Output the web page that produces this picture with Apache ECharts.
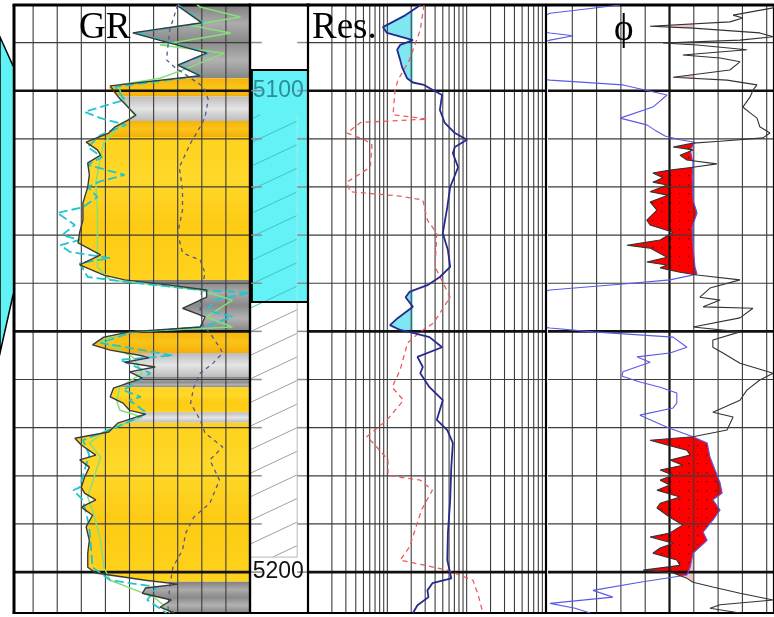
<!DOCTYPE html>
<html>
<head>
<meta charset="utf-8">
<script src="https://cdn.jsdelivr.net/npm/echarts@6/dist/echarts.min.js"></script>
<style>
html,body{margin:0;padding:0;background:#ffffff;}
#chart{width:774px;height:617px;}
</style>
</head>
<body>
<div id="chart"></div>
<script>
// ================= DATA =================
const depthTop = 5082.2;
const depthBottom = 5208.5;
const depthLines = [5090,5100,5110,5120,5130,5140,5150,5160,5170,5180,5190,5200];
const depthHeavyLines = [5100,5150,5200];
const depthLabels = [5100,5200];
const trackTitles = ['GR','Res.','\u03D5'];

const grTicks = [15,30,45,60,75,90,105,120,135];
const resTicks = [2,3,4,5,6,7,8,9,10,20,30,40,50,60,70,80,90,100,200,300,400,500,600,700,800,900];
const phiTicks = [6,12,18,24,36,42,48,54];
const phiHeavyTicks = [30];
const resCutoff = 21;
const phiCutoff = 24;

// intervals in the depth track
const coreTop = 5095.7, coreBottom = 5143.9;
const hatchTop = 5105.0, hatchBottom = 5196.9;

// lithology bands [top, bottom, kind]
const lithoBands = [
  [5082.2,5097.4,'shale'],[5097.4,5101.2,'orange'],[5101.2,5106.3,'silt'],
  [5106.3,5109.6,'orange'],[5109.6,5139.3,'sand'],[5139.3,5149.9,'shale'],
  [5149.9,5154.5,'orange'],[5154.5,5159.5,'silt'],[5159.5,5161.6,'shale'],
  [5161.6,5166.8,'sand'],[5166.8,5169.0,'silt'],[5169.0,5202.0,'sand'],
  [5202.0,5208.5,'shale']
];

// curves: [depth, value]
const grMain = [[5082.2,104],[5082.6,106],[5085.9,120],[5088.0,77],[5092.2,123],[5094.7,105],[5096.9,119],[5099.0,63],[5099.4,62],[5101.3,68],[5103.4,74],[5105.1,79],[5106.1,74],[5107.5,66],[5108.8,62],[5110.7,48],[5112.3,55],[5113.4,57],[5115.0,49],[5117.5,50],[5120.0,49],[5123.3,46],[5126.9,46],[5129.4,44],[5131.6,43],[5134.1,57],[5136.2,44],[5138.3,59],[5139.3,72],[5140.4,100],[5141.4,123],[5142.9,123],[5145.2,108],[5147.0,122],[5149.1,119],[5150.1,75],[5151.2,59],[5152.8,52],[5153.9,63],[5155.0,82],[5155.5,87],[5156.4,72],[5157.4,91],[5158.4,75],[5159.7,83],[5161.8,65],[5163.6,63],[5164.9,71],[5166.4,75],[5167.2,85],[5169.0,68],[5170.9,62],[5172.2,41],[5173.6,45],[5175.7,54],[5176.7,44],[5178.2,50],[5180.3,47],[5182.4,45],[5183.6,47],[5185.0,54],[5186.5,45],[5188.2,52],[5190.6,48],[5193.4,50],[5196.1,49],[5199.0,49],[5200.2,54],[5201.7,85],[5202.5,105],[5203.3,85],[5204.4,83],[5205.8,101],[5207.3,94],[5208.5,103]];
const grCyan = [[5082.2,105],[5082.6,107],[5085.9,121],[5088.0,79],[5092.2,124],[5094.7,106],[5096.9,120],[5099.2,66],[5101.9,72],[5104.4,47],[5105.7,57],[5107.1,73],[5109.2,57],[5111.7,49],[5113.8,58],[5115.4,49],[5117.5,72],[5118.8,57],[5120.0,49],[5122.1,55],[5124.2,46],[5125.4,30],[5127.9,41],[5130.0,33],[5131.0,44],[5132.1,32],[5133.5,38],[5134.8,63],[5135.8,44],[5138.7,49],[5139.8,75],[5141.4,119],[5142.0,150],[5143.5,128],[5145.6,123],[5147.0,139],[5149.1,121],[5150.1,77],[5152.4,57],[5155.0,102],[5155.9,69],[5158.7,88],[5162.2,71],[5163.6,82],[5164.3,75],[5167.0,86],[5169.9,67],[5172.6,46],[5175.7,50],[5178.8,47],[5182.4,44],[5183.0,40],[5185.0,46],[5190.6,50],[5199.0,52],[5201.7,63],[5203.1,92],[5205.8,86],[5208.5,98]];
const grGreen = [[5082.2,117],[5082.6,119],[5084.7,144],[5086.4,113],[5088.0,138],[5090.5,94],[5092.2,134],[5095.1,113],[5097.4,94],[5098.8,68],[5101.9,71],[5105.1,78],[5107.5,68],[5110.9,59],[5113.8,57],[5119.2,54],[5124.2,55],[5129.6,55],[5136.6,55],[5139.3,63],[5141.4,119],[5143.5,139],[5147.0,123],[5149.1,139],[5150.1,77],[5151.8,57],[5155.3,77],[5158.7,83],[5161.6,69],[5164.3,67],[5166.4,69],[5167.8,83],[5170.5,61],[5173.2,50],[5176.1,57],[5184.4,49],[5187.1,52],[5193.4,57],[5199.0,59],[5201.7,63],[5205.2,90],[5207.3,98],[5208.5,100]];
const grDashed = [[5082.2,105],[5082.6,105],[5087.4,100],[5093.6,98],[5095.1,103],[5099.2,121],[5101.9,124],[5105.5,122],[5107.5,119],[5110.9,113],[5115.9,106],[5120.6,108],[5124.8,108],[5129.6,105],[5133.7,108],[5135.2,119],[5137.9,122],[5140.8,120],[5145.6,119],[5149.1,121],[5150.3,125],[5153.3,131],[5154.5,133],[5156.6,127],[5158.7,119],[5161.6,115],[5164.9,113],[5168.4,119],[5171.1,122],[5174.0,133],[5176.7,125],[5180.9,131],[5185.7,125],[5188.6,115],[5191.9,110],[5195.4,108],[5199.0,102],[5203.1,100],[5207.3,99],[5208.5,99]];

const resDeep = [[5082.2,26],[5082.6,24],[5084.3,17],[5086.8,8.8],[5088.0,9.9],[5089.5,21],[5090.5,14.5],[5091.5,13.3],[5093.6,14.5],[5095.1,15.3],[5097.4,17.7],[5098.3,21],[5098.8,29],[5099.9,38],[5100.9,49],[5104.0,46],[5106.7,53],[5108.8,71],[5110.2,101],[5111.7,71],[5113.0,67],[5115.9,78],[5120.0,62],[5124.2,57],[5129.6,50],[5133.1,58],[5136.6,62],[5138.7,46],[5140.4,32],[5141.8,19],[5142.9,17],[5144.9,21],[5147.2,13.6],[5148.7,10.8],[5149.7,14.5],[5150.3,21],[5151.2,34],[5153.3,49],[5155.3,24],[5157.4,28],[5158.7,26],[5161.6,34],[5164.3,50],[5168.4,42],[5170.5,57],[5173.2,67],[5178.2,64],[5185.0,62],[5191.9,58],[5197.5,57],[5201.3,64],[5202.3,37],[5203.8,32],[5205.2,33],[5206.9,24],[5208.5,21]];
const resShallow = [[5082.2,29],[5082.6,28],[5087.4,26],[5093.6,19],[5097.8,13.6],[5099.9,12.5],[5105.0,11.8],[5105.9,32],[5106.6,4.6],[5108.8,3.1],[5110.2,5.2],[5111.3,6.4],[5115.9,6.1],[5119.0,3.1],[5121.0,3.4],[5121.9,14.5],[5122.7,28],[5126.9,32],[5129.6,42],[5136.6,40],[5142.9,62],[5148.3,38],[5150.1,26],[5152.4,18],[5158.0,14.5],[5161.6,11.5],[5164.3,16],[5168.4,9.9],[5171.9,5.5],[5173.6,7],[5176.7,10.2],[5179.9,10.2],[5180.9,26],[5183.0,37],[5187.1,27],[5194.8,19],[5197.5,14.5],[5199.6,57],[5201.7,120],[5204.8,140],[5208.5,160]];

const phiNeutron = [[5082.2,42.2],[5082.6,46.4],[5083.9,59.5],[5085.3,63],[5087.6,63],[5088.0,59.5],[5088.6,53.8],[5089.5,59.5],[5090.3,63],[5097.4,63],[5097.8,59.5],[5098.8,41.5],[5100.9,30.6],[5103.4,34.1],[5105.7,42.2],[5107.1,35.6],[5108.2,33.6],[5109.4,31.1],[5110.2,27.4],[5110.7,23.7],[5112.3,24.9],[5115.0,24.2],[5117.9,24.4],[5122.7,24.2],[5125.4,23.2],[5128.3,24.4],[5132.5,24.2],[5136.6,23.7],[5138.1,23.2],[5139.3,29.9],[5140.2,42.2],[5141.4,59.5],[5142.0,63],[5148.9,63],[5149.3,59.5],[5150.1,48.9],[5151.2,29.1],[5153.3,25.7],[5154.5,29.9],[5155.3,38.0],[5156.4,34.8],[5158.4,41.5],[5159.3,41.7],[5160.5,37.3],[5161.6,32.3],[5162.8,28.2],[5164.9,28.2],[5165.9,29.1],[5167.4,37.3],[5169.9,30.6],[5171.9,24.2],[5173.2,20.7],[5176.1,20.0],[5181.5,17.5],[5183.6,17.0],[5185.0,19.3],[5187.1,17.5],[5189.2,19.3],[5191.7,21.7],[5193.4,20.7],[5196.1,24.2],[5199.0,24.9],[5200.6,25.7],[5202.1,37.3],[5203.8,48.9],[5205.2,44.0],[5206.5,59.5],[5207.5,53.3],[5208.5,49.6]];
const phiDensity = [[5082.2,3.5],[5082.8,4.4],[5084.3,14.3],[5084.9,11.9],[5085.7,15.1],[5086.6,34.8],[5087.0,24.2],[5088.0,7.7],[5088.8,4.4],[5089.5,12.6],[5090.1,31.6],[5090.5,23.2],[5091.5,10.9],[5092.6,26.7],[5093.2,17.5],[5094.0,12.6],[5095.7,15.1],[5097.2,29.1],[5097.8,15.8],[5098.8,8.4],[5099.9,9.4],[5101.3,10.1],[5103.4,11.9],[5104.6,10.1],[5105.7,8.4],[5107.5,7.7],[5108.8,5.2],[5109.8,6.9],[5110.5,17.5],[5110.9,24.2],[5111.7,29.1],[5112.3,24.2],[5113.4,27.4],[5114.4,25.7],[5115.2,18.3],[5115.9,24.2],[5116.5,29.9],[5117.1,34.1],[5118.1,31.6],[5119.0,34.1],[5119.6,30.6],[5121.0,34.8],[5121.7,30.4],[5123.1,34.8],[5124.8,33.1],[5126.9,35.6],[5127.9,34.8],[5129.4,29.1],[5131.0,32.3],[5132.1,40.5],[5132.7,34.8],[5134.6,30.6],[5135.6,35.6],[5136.2,30.6],[5136.8,32.3],[5137.7,27.4],[5138.3,23.2],[5139.3,12.6],[5141.0,20.0],[5142.9,22.5],[5143.5,17.5],[5144.9,21.7],[5145.2,9.4],[5147.2,12.6],[5149.1,24.2],[5150.1,12.6],[5151.8,19.3],[5153.3,19.3],[5154.5,16.8],[5156.6,12.6],[5158.7,4.4],[5160.1,7.7],[5162.2,10.9],[5164.3,12.6],[5166.8,19.3],[5167.8,14.3],[5170.5,15.8],[5171.9,24.2],[5172.6,34.8],[5173.6,30.6],[5174.7,25.7],[5175.7,24.9],[5176.7,29.9],[5177.8,26.7],[5178.8,32.3],[5179.9,29.1],[5180.9,32.3],[5181.9,29.9],[5183.0,33.1],[5184.4,27.4],[5185.7,32.3],[5186.7,33.1],[5188.6,29.9],[5190.2,26.7],[5191.9,29.9],[5192.7,34.8],[5194.0,29.1],[5195.0,32.3],[5196.1,34.1],[5197.5,28.2],[5198.6,27.4],[5199.6,36.5],[5200.2,29.1],[5201.3,25.7],[5202.1,24.2],[5203.1,19.3],[5204.4,12.6],[5205.8,4.4],[5206.8,17.5],[5207.5,20.0],[5208.5,12.6]];

// ================= HELPERS =================
const GR = 0, DEP = 1, RES = 2, PHI = 3;
// phi track: 60 p.u. at the left edge, 6 p.u. per 24.3 px; the visible part ends at the page edge
const xRange = {0:[3.1,150], 1:[0,1], 2:[1,1000], 3:[4.2,60]};
const anchor = {0:[50,5150], 1:[0.5,5150], 2:[10,5150], 3:[30,5150]};
const toXY = pts => pts.map(p => [p[1], p[0]]);

function interpX(pts, y) {
  if (y <= pts[0][1]) return pts[0][0];
  const n = pts.length;
  if (y >= pts[n-1][1]) return pts[n-1][0];
  for (let i = 1; i < n; i++) {
    if (pts[i][1] >= y) {
      const a = pts[i-1], b = pts[i];
      const t = b[1] === a[1] ? 0 : (y - a[1]) / (b[1] - a[1]);
      return a[0] + t * (b[0] - a[0]);
    }
  }
  return pts[n-1][0];
}
// polygons where left.x < right.x (pixel space, y ascending)
function fillBetween(L, R) {
  const y0 = Math.max(L[0][1], R[0][1]), y1 = Math.min(L[L.length-1][1], R[R.length-1][1]);
  const ys = Array.from(new Set(L.map(p=>p[1]).concat(R.map(p=>p[1]))))
    .filter(y => y >= y0 && y <= y1).sort((a,b)=>a-b);
  const polys = []; let cur = null; let prev = null;
  ys.forEach(y => {
    const l = interpX(L, y), r = interpX(R, y), d = r - l;
    if (prev) {
      const dp = prev.d;
      if (((dp > 0) && (d <= 0)) || ((dp <= 0) && (d > 0))) {
        const t = dp / (dp - d);
        const yc = prev.y + t * (y - prev.y), xc = prev.l + t * (l - prev.l);
        if (dp > 0 && cur) { cur.left.push([xc,yc]); cur.right.push([xc,yc]); polys.push(cur); cur = null; }
        else if (dp <= 0) { cur = {left:[[xc,yc]], right:[[xc,yc]]}; }
      }
    }
    if (d > 0) { if (!cur) cur = {left:[], right:[]}; cur.left.push([l,y]); cur.right.push([r,y]); }
    else if (cur) { polys.push(cur); cur = null; }
    prev = {y, l, r, d};
  });
  if (cur) polys.push(cur);
  return polys.map(p => p.left.concat(p.right.slice().reverse()));
}
function px(api, pts) { return pts.map(p => api.coord([p[1], p[0]])); }

// ================= STYLES =================
const G = echarts.graphic.LinearGradient;
function bandFill(kind) {
  if (kind === 'shale') return new G(0,0,0,1,[{offset:0,color:'#808080'},{offset:0.25,color:'#ababab'},{offset:0.5,color:'#8a8a8a'},{offset:0.75,color:'#b2b2b2'},{offset:1,color:'#878787'}]);
  if (kind === 'silt') return new G(0,0,0,1,[{offset:0,color:'#bdbdbd'},{offset:0.5,color:'#e4e4e4'},{offset:1,color:'#bcbcbc'}]);
  if (kind === 'orange') return new G(0,0,0,1,[{offset:0,color:'#F6B30C'},{offset:0.5,color:'#FBC417'},{offset:1,color:'#F5AE0A'}]);
  return new G(0,0,0,1,[{offset:0,color:'#FFD21C'},{offset:0.3,color:'#FFD82A'},{offset:0.6,color:'#FDCB14'},{offset:1,color:'#FFD21C'}]);
}
const pat = document.createElement('canvas'); pat.width = 9; pat.height = 9;
(function(){ const g = pat.getContext('2d'); g.fillStyle = '#ff0000'; g.fillRect(0,0,9,9); g.fillStyle = '#700000'; g.fillRect(4,4,1.3,1.3); })();
const redPattern = {image: pat, repeat: 'repeat'};

// ================= SERIES =================
const series = [];

function gridSeries(gi, vThin, vHeavy, leftW, rightW, withH) {
  return {
    type:'custom', xAxisIndex:gi, yAxisIndex:gi, z:5, silent:true, clip:false, data:[anchor[gi]],
    renderItem: (params, api) => {
      const ch = [];
      const L = (a,b,w,c) => ch.push({type:'line', shape:{x1:a[0],y1:a[1],x2:b[0],y2:b[1]}, style:{stroke:c, lineWidth:w}});
      const [x0, x1] = xRange[gi];
      vThin.forEach(v => L(api.coord([v,depthTop]), api.coord([v,depthBottom]), 1.1, '#3c3c3c'));
      vHeavy.forEach(v => L(api.coord([v,depthTop]), api.coord([v,depthBottom]), 2.2, '#111'));
      if (withH) {
        depthLines.forEach(d => {
          const heavy = depthHeavyLines.indexOf(d) >= 0;
          L(api.coord([x0,d]), api.coord([x1,d]), heavy ? 2.6 : 1.2, heavy ? '#111' : '#3c3c3c');
        });
      }
      const tl = api.coord([x0,depthTop]), tr = api.coord([x1,depthTop]);
      const bl = api.coord([x0,depthBottom]), br = api.coord([x1,depthBottom]);
      L([Math.min(tl[0],tr[0])-1.5,tl[1]], [Math.max(tl[0],tr[0])+1,tr[1]], 3, '#000');
      L([Math.min(bl[0],br[0])-1.5,bl[1]], [Math.max(bl[0],br[0])+1,br[1]], 2.2, '#000');
      if (leftW) L(tl, bl, leftW, '#000');
      if (rightW) L(tr, br, rightW, '#000');
      return {type:'group', children:ch};
    }
  };
}

// GR lithology bands
series.push({
  type:'custom', xAxisIndex:GR, yAxisIndex:GR, z:1, silent:true, clip:true,
  data: lithoBands.map(b => [50, (b[0]+b[1])/2]),
  renderItem: (params, api) => {
    const b = lithoBands[params.dataIndex];
    const a = api.coord([xRange[GR][0], b[0]]), c = api.coord([xRange[GR][1], b[1]]);
    return {type:'rect', shape:{x:a[0], y:a[1], width:c[0]-a[0], height:c[1]-a[1]}, style:{fill: bandFill(b[2])}};
  }
});
// white area left of GR curve
series.push({
  type:'custom', xAxisIndex:GR, yAxisIndex:GR, z:2, silent:true, clip:true, data:[anchor[GR]],
  renderItem: (params, api) => {
    const pts = px(api, grMain);
    const a = api.coord([xRange[GR][0], depthTop]), b = api.coord([xRange[GR][0], depthBottom]);
    return {type:'polygon', shape:{points:[a].concat(pts, [b])}, style:{fill:'#ffffff'}};
  }
});
series.push(gridSeries(GR, grTicks, [], 3, 2.2, true));
[[grGreen,'#86e07a',1.5,'solid'],[grDashed,'#56598f',1.3,[4,4]],[grCyan,'#1fc6cf',1.8,[9,4]],[grMain,'#3a3a3a',1.4,'solid']].forEach(c => {
  series.push({type:'line', xAxisIndex:GR, yAxisIndex:GR, data:toXY(c[0]), symbol:'none', z:10, silent:true,
    lineStyle:{color:c[1], width:c[2], type:c[3]}});
});

// depth track
series.push({
  type:'custom', xAxisIndex:DEP, yAxisIndex:DEP, z:3, silent:true, clip:true, data:[anchor[DEP]],
  renderItem: (params, api) => {
    const ch = [];
    const a = api.coord([0.03, coreTop]), b = api.coord([1, coreBottom]);
    ch.push({type:'rect', shape:{x:a[0], y:a[1], width:b[0]-a[0], height:b[1]-a[1]}, style:{fill:'#63F2F5'}});
    const rise = 4.6, step = 4.9;
    for (let d = 5150.1 - step*9; d < hatchBottom + rise; d += step) {
      let t0 = 0, t1 = 1;
      if (d > hatchBottom) t0 = (d - hatchBottom) / rise;
      if (d - rise < hatchTop) t1 = (d - hatchTop) / rise;
      if (t1 <= t0) continue;
      const p0 = api.coord([0.8*t0, d - rise*t0]), p1 = api.coord([0.8*t1, d - rise*t1]);
      const inCore = (d - rise*0.5) < coreBottom;
      ch.push({type:'line', shape:{x1:p0[0],y1:p0[1],x2:p1[0],y2:p1[1]}, style:{stroke: inCore ? '#3fc3c9' : '#a0a0a0', lineWidth:1}});
    }
    const r0 = api.coord([0.8, hatchTop]), r1 = api.coord([0.8, coreBottom]), r2 = api.coord([0.8, hatchBottom]), r3 = api.coord([0, hatchBottom]);
    ch.push({type:'line', shape:{x1:r0[0],y1:r0[1],x2:r1[0],y2:r1[1]}, style:{stroke:'#9fe9ec', lineWidth:1.2}});
    ch.push({type:'line', shape:{x1:r1[0],y1:r1[1],x2:r2[0],y2:r2[1]}, style:{stroke:'#c4c4c4', lineWidth:1.2}});
    ch.push({type:'line', shape:{x1:r3[0],y1:r3[1],x2:r2[0],y2:r2[1]}, style:{stroke:'#c4c4c4', lineWidth:1.2}});
    ch.push({type:'rect', shape:{x:a[0], y:a[1], width:b[0]-a[0], height:b[1]-a[1]}, style:{fill:null, stroke:'#000', lineWidth:2.2}});
    depthLines.forEach(d => {
      const l0 = api.coord([0,d]), l1 = api.coord([0.2,d]), q0 = api.coord([0.8,d]), q1 = api.coord([1,d]);
      ch.push({type:'line', shape:{x1:l0[0],y1:l0[1],x2:l1[0],y2:l1[1]}, style:{stroke:'#8c8c8c', lineWidth:1.5}});
      ch.push({type:'line', shape:{x1:q0[0],y1:q0[1],x2:q1[0],y2:q1[1]}, style:{stroke:'#8c8c8c', lineWidth:1.5}});
    });
    depthLabels.forEach(d => {
      const p = api.coord([0.045, d]);
      const inCore = d > coreTop && d < coreBottom;
      ch.push({type:'text', x:p[0], y:p[1], style:{text:String(d), font:'23px "Liberation Sans", Arial, sans-serif',
        fill: inCore ? '#2a8f9b' : '#111', align:'left', textAlign:'left', verticalAlign:'middle', textVerticalAlign:'middle'}});
    });
    return {type:'group', children:ch};
  }
});
series.push(gridSeries(DEP, [], [], 2.2, 0, false));

// Res track
series.push({
  type:'custom', xAxisIndex:RES, yAxisIndex:RES, z:2, silent:true, clip:true, data:[anchor[RES]],
  renderItem: (params, api) => {
    const L = px(api, resDeep);
    const cx = api.coord([resCutoff, depthTop])[0];
    const R = [[cx, api.coord([1,depthTop])[1]], [cx, api.coord([1,depthBottom])[1]]];
    return {type:'group', children: fillBetween(L, R).map(poly => ({type:'polygon', shape:{points:poly}, style:{fill:'#7fe7f2'}}))};
  }
});
series.push(gridSeries(RES, resTicks, [], 2.2, 2.2, true));
series.push({type:'line', xAxisIndex:RES, yAxisIndex:RES, data:toXY(resShallow), symbol:'none', z:10, silent:true,
  lineStyle:{color:'#ef5a5a', width:1.3, type:[5,4]}});
series.push({type:'line', xAxisIndex:RES, yAxisIndex:RES, data:toXY(resDeep), symbol:'none', z:11, silent:true,
  lineStyle:{color:'#262a8c', width:1.8}});

// PHI track
series.push({
  type:'custom', xAxisIndex:PHI, yAxisIndex:PHI, z:2, silent:true, clip:true, data:[anchor[PHI]],
  renderItem: (params, api) => {
    const D = px(api, phiDensity), N = px(api, phiNeutron);
    const cx = api.coord([phiCutoff, depthTop])[0];
    const C = [[cx, api.coord([30,depthTop])[1]], [cx, api.coord([30,depthBottom])[1]]];
    const ch = [];
    fillBetween(D, C).forEach(poly => ch.push({type:'polygon', shape:{points:poly}, style:{fill:'#f4c4c4'}}));
    fillBetween(D, N).forEach(poly => ch.push({type:'polygon', shape:{points:poly}, style:{fill:redPattern}}));
    return {type:'group', children:ch};
  }
});
series.push(gridSeries(PHI, phiTicks, phiHeavyTicks, 2.2, 0, true));
series.push({type:'line', xAxisIndex:PHI, yAxisIndex:PHI, data:toXY(phiNeutron), symbol:'none', z:10, silent:true,
  lineStyle:{color:'#5a5ae6', width:1.1}});
series.push({type:'line', xAxisIndex:PHI, yAxisIndex:PHI, data:toXY(phiDensity), symbol:'none', z:11, silent:true,
  lineStyle:{color:'#333333', width:1.1}});

// ================= OPTION =================
const grids = [
  {left:14, top:5, width:236, height:608},
  {left:250, top:5, width:59, height:608},
  {left:308, top:5, width:238, height:608},
  {left:548, top:5, width:226, height:608}
];
const xAxes = [
  {gridIndex:0, type:'value', min:xRange[0][0], max:xRange[0][1], show:false},
  {gridIndex:1, type:'value', min:0, max:1, show:false},
  {gridIndex:2, type:'log', logBase:10, min:1, max:1000, show:false},
  {gridIndex:3, type:'value', min:xRange[3][0], max:xRange[3][1], inverse:true, show:false}
];
const yAxes = [0,1,2,3].map(i => ({gridIndex:i, type:'value', min:depthTop, max:depthBottom, inverse:true, show:false}));

const titleFont = '37px "Liberation Serif", "DejaVu Serif", "Times New Roman", serif';
const option = {
  backgroundColor:'#ffffff',
  animation:false,
  grid: grids, xAxis: xAxes, yAxis: yAxes,
  series: series,
  graphic: [
    {type:'polygon', z:100, shape:{points:[[0,37],[13.5,67],[13.5,293],[0,353]]}, style:{fill:'#5ff3f6', stroke:'#000', lineWidth:1.5}},
    {type:'text', z:100, x:79, y:28, style:{text:trackTitles[0], font:titleFont, fill:'#000', align:'left', textAlign:'left', verticalAlign:'middle', textVerticalAlign:'middle'}},
    {type:'text', z:100, x:312, y:28, style:{text:trackTitles[1], font:titleFont, fill:'#000', align:'left', textAlign:'left', verticalAlign:'middle', textVerticalAlign:'middle'}},
    {type:'text', z:100, x:614, y:30, style:{text:trackTitles[2], font:titleFont, fill:'#000', align:'left', textAlign:'left', verticalAlign:'middle', textVerticalAlign:'middle'}}
  ]
};
const chart = echarts.init(document.getElementById('chart'), null, {renderer:'canvas'});
chart.setOption(option);
</script>
</body>
</html>
